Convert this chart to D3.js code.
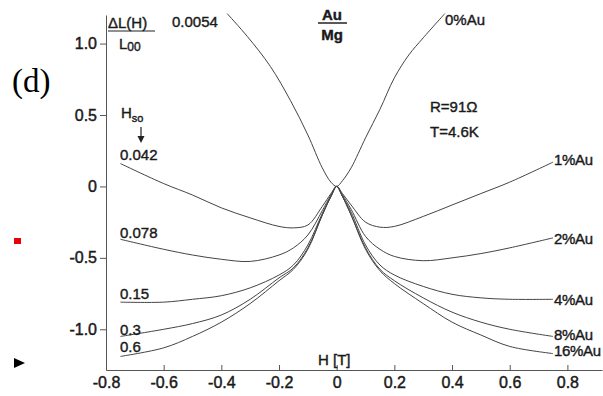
<!DOCTYPE html>
<html>
<head>
<meta charset="utf-8">
<script src="https://cdn.jsdelivr.net/npm/d3@7"></script>
<style>
  body { margin: 0; background: #fff; }
  svg { font-family: "Liberation Sans", Arial, sans-serif; }
  .tick text { font-size: 16px; fill: #1a1a1a; stroke: #1a1a1a; stroke-width: 0.45px; }
  .lbl { font-size: 15px; fill: #1a1a1a; stroke: #1a1a1a; stroke-width: 0.4px; }
</style>
</head>
<body>
<div id="chart"></div>
<script>
// Magnetic field values (T) where the curves were read
var fieldLeft = [-0.75, -0.6, -0.5, -0.4, -0.3, -0.2, -0.15, -0.1, -0.05, -0.02, 0];
var fieldRight = [0.02, 0.05, 0.1, 0.15, 0.2, 0.3, 0.4, 0.5, 0.6, 0.75];

// dL(H)/L00 for each Au concentration (left branch, right branch)
var au1Left = [0.16, 0.02, -0.06, -0.15, -0.22, -0.28, -0.29, -0.27, -0.14, -0.05, 0];
var au1Right = [-0.05, -0.13, -0.25, -0.285, -0.28, -0.21, -0.13, -0.05, 0.03, 0.17];
var au2Left = [-0.37, -0.44, -0.48, -0.51, -0.525, -0.48, -0.43, -0.34, -0.17, -0.06, 0];
var au2Right = [-0.06, -0.16, -0.35, -0.44, -0.49, -0.52, -0.5, -0.47, -0.43, -0.36];
var au4Left = [-0.81, -0.81, -0.79, -0.765, -0.71, -0.62, -0.55, -0.41, -0.19, -0.07, 0];
var au4Right = [-0.07, -0.18, -0.41, -0.55, -0.62, -0.7, -0.755, -0.78, -0.79, -0.79];
var au8Left = [-1.05, -1.0, -0.96, -0.9, -0.79, -0.64, -0.57, -0.43, -0.2, -0.07, 0];
var au8Right = [-0.07, -0.2, -0.43, -0.58, -0.66, -0.78, -0.88, -0.95, -1.0, -1.05];
var au16Left = [-1.19, -1.13, -1.05, -0.95, -0.82, -0.66, -0.58, -0.44, -0.2, -0.07, 0];
var au16Right = [-0.07, -0.2, -0.44, -0.59, -0.68, -0.82, -0.95, -1.04, -1.12, -1.17];

// pure Mg curve runs off the top, so it has its own field values
var au0Field = [-0.38, -0.31, -0.23, -0.16, -0.1, -0.05, -0.02, 0, 0.02, 0.05, 0.1, 0.15, 0.2, 0.25, 0.3, 0.375];
var au0Values = [1.21, 1.05, 0.84, 0.6, 0.36, 0.13, 0.03, 0, 0.04, 0.13, 0.34, 0.54, 0.76, 0.92, 1.04, 1.21];

var seriesNames = ["1%Au", "2%Au", "4%Au", "8%Au", "16%Au"];
var hsoLabels = ["0.042", "0.078", "0.15", "0.3", "0.6"];

var xTicks = [-0.8, -0.6, -0.4, -0.2, 0, 0.2, 0.4, 0.6, 0.8];
var xTickLabels = ["-0.8", "-0.6", "-0.4", "-0.2", "0", "0.2", "0.4", "0.6", "0.8"];
var yTicks = [-1, -0.5, 0, 0.5, 1];
var yTickLabels = ["-1.0", "-0.5", "0", "0.5", "1.0"];

var width = 603, height = 396;

var svg = d3.select("#chart").append("svg")
    .attr("width", width)
    .attr("height", height);

var x = d3.scaleLinear().domain([-0.8, 0.92]).range([106, 602]);
var y = d3.scaleLinear().domain([-1.285, 1.2]).range([370, 15]);

// build point lists from the arrays
function joinPoints(hl, vl, hr, vr) {
    var pts = hl.map(function (h, i) { return [h, vl[i]]; });
    return pts.concat(hr.map(function (h, i) { return [h, vr[i]]; }));
}
var curves = [
    joinPoints(fieldLeft, au1Left, fieldRight, au1Right),
    joinPoints(fieldLeft, au2Left, fieldRight, au2Right),
    joinPoints(fieldLeft, au4Left, fieldRight, au4Right),
    joinPoints(fieldLeft, au8Left, fieldRight, au8Right),
    joinPoints(fieldLeft, au16Left, fieldRight, au16Right)
];
var curve0 = au0Field.map(function (h, i) { return [h, au0Values[i]]; });

// X axis (ticks point up into the plot)
var xAxis = svg.append("g")
    .attr("transform", "translate(0," + y(-1.285) + ")")
    .call(d3.axisBottom(x).tickValues(xTicks).tickSize(-5).tickSizeOuter(0).tickPadding(7)
        .tickFormat(function (d, i) { return xTickLabels[i]; }));

// Y axis
var yAxis = svg.append("g")
    .attr("transform", "translate(" + x(-0.8) + ",0)")
    .call(d3.axisLeft(y).tickValues(yTicks).tickSize(6).tickSizeOuter(0).tickPadding(3)
        .tickFormat(function (d, i) { return yTickLabels[i]; }));

svg.selectAll(".domain, .tick line").attr("stroke", "#555").attr("stroke-width", 1);
svg.selectAll(".tick text").attr("font-family", "Liberation Sans").attr("font-size", 16);

var line = d3.line()
    .x(function (d) { return x(d[0]); })
    .y(function (d) { return y(d[1]); })
    .curve(d3.curveCatmullRom.alpha(0.5));

svg.selectAll(".curve")
    .data(curves.concat([curve0]))
    .enter()
    .append("path")
    .attr("class", "curve")
    .attr("d", line)
    .attr("fill", "none")
    .attr("stroke", "#444")
    .attr("stroke-width", 1);

// series labels on the right
var rightLabelY = [165, 244, 305, 340, 356];
svg.selectAll(".rlab")
    .data(seriesNames)
    .enter()
    .append("text")
    .attr("class", "lbl")
    .attr("x", 554)
    .attr("y", function (d, i) { return rightLabelY[i]; })
    .attr("font-size", 14)
    .attr("letter-spacing", -0.3)
    .text(function (d) { return d; });

// H_so labels on the left
var leftLabelY = [160, 238, 299, 335, 352];
svg.selectAll(".llab")
    .data(hsoLabels)
    .enter()
    .append("text")
    .attr("class", "lbl")
    .attr("x", 120)
    .attr("y", function (d, i) { return leftLabelY[i]; })
    .text(function (d) { return d; });

svg.append("text").attr("class", "lbl").attr("x", 172).attr("y", 27).text("0.0054");
svg.append("text").attr("class", "lbl").attr("x", 445).attr("y", 25).text("0%Au");
svg.append("text").attr("class", "lbl").attr("x", 430).attr("y", 112).text("R=91Ω");
svg.append("text").attr("class", "lbl").attr("x", 430).attr("y", 137).text("T=4.6K");

// H_so with arrow
var hso = svg.append("text").attr("class", "lbl").attr("x", 121).attr("y", 118);
hso.append("tspan").text("H");
hso.append("tspan").attr("font-size", 11).attr("dy", 4).text("so");
svg.append("line").attr("x1", 141).attr("x2", 141).attr("y1", 127).attr("y2", 140)
    .attr("stroke", "#222").attr("stroke-width", 1.2);
svg.append("path").attr("d", "M137.5,136 L144.5,136 L141,143 Z").attr("fill", "#222");

// y axis title as a fraction
svg.append("text").attr("class", "lbl").attr("x", 108).attr("y", 28).attr("font-size", 16).text("ΔL(H)");
svg.append("line").attr("x1", 108).attr("x2", 155).attr("y1", 31).attr("y2", 31)
    .attr("stroke", "#222").attr("stroke-width", 1.2);
var l00 = svg.append("text").attr("class", "lbl").attr("x", 119).attr("y", 49);
l00.append("tspan").text("L");
l00.append("tspan").attr("font-size", 12).attr("dy", 2).text("00");

// Au / Mg fraction
svg.append("text").attr("class", "lbl").attr("x", 332).attr("y", 20).attr("font-size", 11)
    .attr("text-anchor", "middle").attr("font-weight", "bold").text("Au");
svg.append("line").attr("x1", 318).attr("x2", 347).attr("y1", 23).attr("y2", 23)
    .attr("stroke", "#222").attr("stroke-width", 1.5);
svg.append("text").attr("class", "lbl").attr("x", 332).attr("y", 40).attr("font-size", 19)
    .attr("text-anchor", "middle").attr("font-weight", "bold").text("Mg");

// x axis title
svg.append("text").attr("class", "lbl").attr("x", 318).attr("y", 365).attr("font-size", 16).text("H [T]");

// panel label
svg.append("text").attr("x", 12).attr("y", 92)
    .style("font-family", "Liberation Serif, serif").style("font-size", "33px").text("(d)");

// stray marks from the source image
svg.append("rect").attr("x", 14).attr("y", 238).attr("width", 7).attr("height", 6).attr("fill", "#e8000b");
svg.append("path").attr("d", "M14,358 L25,363 L14,368 Z").attr("fill", "#000");
</script>
</body>
</html>
